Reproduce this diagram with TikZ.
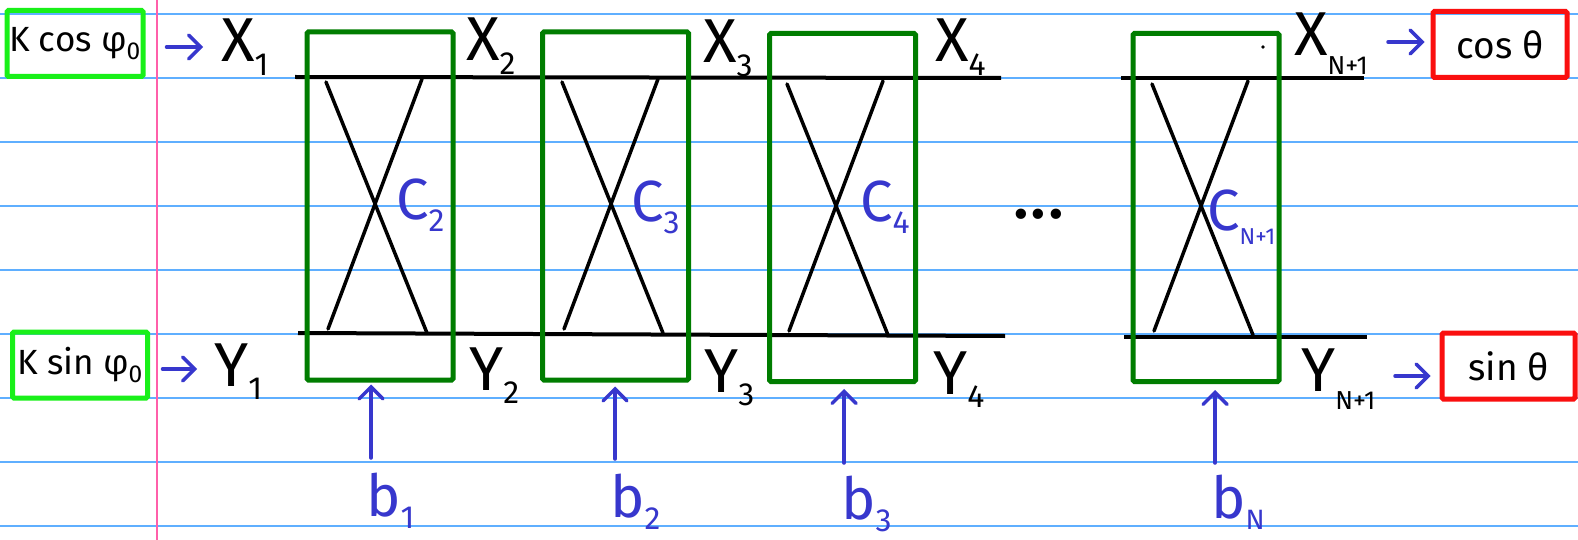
\documentclass[tikz,border=0pt]{standalone}
\usepackage{fontspec}
\setmainfont{Fira Sans}
\usetikzlibrary{arrows.meta}
\definecolor{rulec}{RGB}{95,175,255}
\definecolor{marginc}{RGB}{255,95,170}
\definecolor{lgreen}{RGB}{25,240,25}
\definecolor{dgreen}{RGB}{0,125,0}
\definecolor{pen}{RGB}{55,55,205}
\definecolor{redc}{RGB}{250,15,15}
\newcommand\sbs[1]{\raisebox{-0.22em}{\fontsize{32}{32}\selectfont #1}}
\newcommand\sbn[1]{\raisebox{-0.3em}{\fontsize{26}{26}\selectfont #1}}
\begin{document}
\begin{tikzpicture}[x=1pt,y=-1pt,
  ruleline/.style={draw=rulec,line width=1.5pt},
  marginline/.style={draw=marginc,line width=1.5pt},
  inbox/.style={draw=lgreen,line width=5pt,rounded corners=1.5pt,minimum width=#1,minimum height=66pt,inner sep=0pt,font=\fontsize{35}{35}\selectfont},
  outbox/.style={draw=redc,line width=5pt,rounded corners=1.5pt,minimum width=#1,minimum height=66pt,inner sep=0pt,font=\fontsize{37}{37}\selectfont},
  gatebox/.style={draw=dgreen,line width=5pt,rounded corners=1.5pt,minimum width=146pt,minimum height=348pt,inner sep=0pt},
  wire/.style={draw=black,line width=4pt},
  crossline/.style={draw=black,line width=3.5pt,line cap=round},
  lab/.style={inner sep=0pt,anchor=base west,font=\fontsize{62}{62}\selectfont},
  blab/.style={inner sep=0pt,anchor=base west,text=pen,font=\fontsize{58}{58}\selectfont},
  barrow/.style={draw=pen,line width=3.5pt,line cap=round,-{Straight Barb[length=12pt,width=24pt,line cap=round]}}
]
\fill[white] (0,0) rectangle (1578,540);
\useasboundingbox (0,0) rectangle (1578,540);
% notebook paper
\foreach \yy in {14,78,...,526} \draw[ruleline] (0,\yy) -- (1578,\yy);
\draw[marginline] (157,0) -- (157,540);

% input and output boxes
\node[inbox=136pt] (kc) at (75,43.5) {K cos φ\textsubscript{0}};
\node[inbox=135pt] (ks) at (80,365) {K sin φ\textsubscript{0}};
\node[outbox=134pt] (cb) at (1500,44.5) {cos θ};
\node[outbox=133pt] (sb) at (1508.5,366) {sin θ};

% wires
\draw[wire] (295,77) -- (1001,78);
\draw[wire] (298,333) -- (1005,336);
\draw[wire] (1121,78) -- (1364,78);
\draw[wire] (1124,337) -- (1367,337);

% gates
\node[gatebox] (g1) at (380,206) {};
\node[gatebox] (g2) at (615.5,206) {};
\node[gatebox] (g3) at (842.5,207.5) {};
\node[gatebox] (gN) at (1206,207.5) {};
\foreach \L/\t in {307/0,543/0,768/2,1133/2}{
  \draw[crossline] (\L+19,82+\t) -- (\L+120,333+\t);
  \draw[crossline] (\L+115,79+\t) -- (\L+21,329+\t);
}
\fill (1263,47) circle (1.8);

% gate labels
\node[blab] (c2) at (396,219) {C\sbs{2}};
\node[blab] (c3) at (631,221) {C\sbs{3}};
\node[blab] (c4) at (860,221) {C\sbs{4}};
\node[blab] (cN) at (1207,230) {C\raisebox{-0.25em}{\fontsize{23}{23}\selectfont N+1}};
\node[lab,font=\fontsize{74}{74}\selectfont] (dots) at (1012,218) {...};

% X labels
\node[lab] (x1) at (221,62) {X\sbs{1}};
\node[lab] (x2) at (466,61) {X\sbs{2}};
\node[lab] (x3) at (703,63) {X\sbs{3}};
\node[lab] (x4) at (935,62) {X\sbs{4}};
\node[lab] (xN) at (1294,56) {X\sbn{N+1}};
% Y labels
\node[lab] (y1) at (214,386) {Y\sbs{1}};
\node[lab] (y2) at (469,390) {Y\sbs{2}};
\node[lab] (y3) at (704,392) {Y\sbs{3}};
\node[lab] (y4) at (933,394) {Y\sbs{4}};
\node[lab] (yN) at (1301,391) {Y\sbn{N+1}};

% b labels
\node[blab] (b1) at (366,516) {b\sbs{1}};
\node[blab] (b2) at (610,517) {b\sbs{2}};
\node[blab] (b3) at (841,519) {b\sbs{3}};
\node[blab] (bN) at (1211,518) {b\raisebox{-0.2em}{\fontsize{28}{28}\selectfont N}};

% arrows
\draw[barrow,shorten <=21pt,shorten >=18pt] ([yshift=-3.5pt]kc.east) -- ([yshift=-3.5pt]kc.east -| x1.west);
\draw[barrow,shorten <=12.5pt,shorten >=17pt] ([yshift=-4pt]ks.east) -- ([yshift=-4pt]ks.east -| y1.west);
\coordinate (a3) at (1388,42);
\draw[barrow,shorten >=6pt] (a3) -- (a3 -| cb.west);
\coordinate (a4) at (1395,376);
\draw[barrow,shorten >=9pt] (a4) -- (a4 -| sb.west);
\coordinate (t1) at (371,458);
\coordinate (t2) at (615,459);
\coordinate (t3) at (844,463);
\coordinate (tN) at (1215,463);
\draw[barrow,shorten >=2pt] (t1) -- (t1 |- g1.south);
\draw[barrow,shorten >=4pt] (t2) -- (t2 |- g2.south);
\draw[barrow,shorten >=5pt] (t3) -- (t3 |- g3.south);
\draw[barrow,shorten >=6pt] (tN) -- (tN |- gN.south);
\end{tikzpicture}
\end{document}
